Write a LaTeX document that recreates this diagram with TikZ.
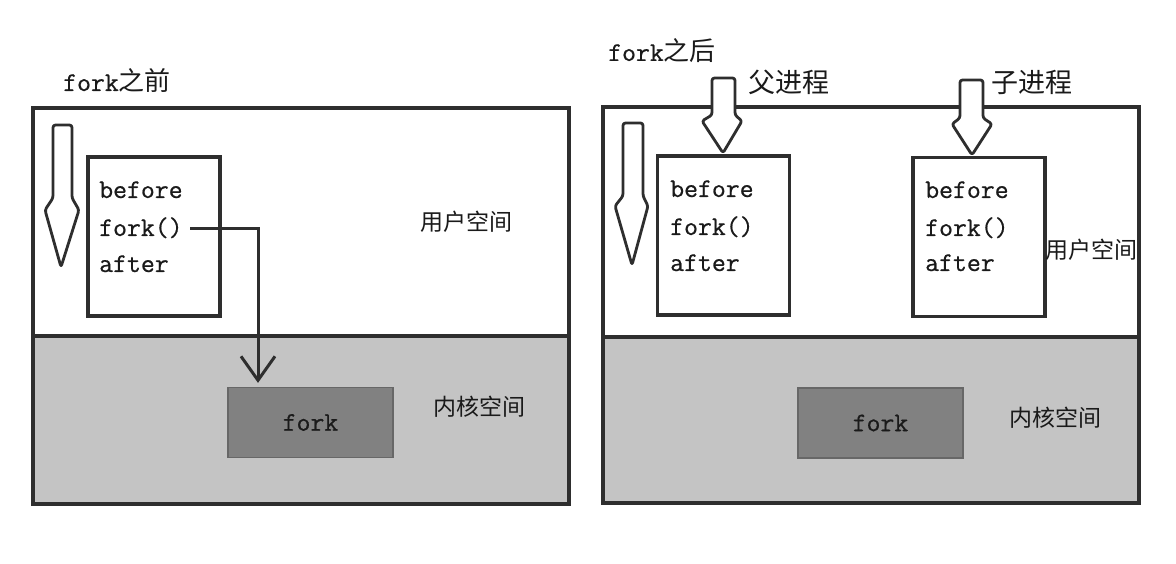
\documentclass[tikz,border=0pt]{standalone}
\usepackage{fontspec}
\newfontfamily\cjk{Noto Sans CJK SC}
\newfontfamily\monof{Latin Modern Mono}[FakeBold=0.6]
\usetikzlibrary{arrows.meta}
\definecolor{kgray}{HTML}{C4C4C4}
\definecolor{boxgray}{HTML}{818181}
\definecolor{ink}{HTML}{2E2E2E}
\definecolor{txt}{HTML}{1A1A1A}
\newcommand{\codefont}{\monof\fontsize{27}{30}\selectfont}
\tikzset{
  panel/.style={draw=ink, line width=3.2pt},
  codebox/.style={draw=ink, line width=3.2pt, fill=white, rectangle, minimum width=132pt, minimum height=159pt, inner sep=0pt},
  codeline/.style={anchor=base west, inner sep=0pt, text=txt, font=\codefont},
  kbox/.style={rectangle, fill=boxgray, draw=boxgray!80!black, line width=1.2pt, minimum width=165pt, minimum height=70pt, inner sep=0pt, text=txt, font=\codefont},
  zhlabel/.style={inner sep=0pt, text=txt, font=\cjk\fontsize{23}{26}\selectfont},
  zhbig/.style={inner sep=0pt, text=txt, font=\cjk\fontsize{27}{30}\selectfont},
  title/.style={anchor=west, inner sep=0pt, text=txt},
  fatarrow/.style={draw=ink, line width=2.8pt, fill=white, line join=round, rounded corners=2.5pt},
  callarrow/.style={draw=ink, line width=3pt, shorten >=4pt, -{Straight Barb[length=24pt, width=34pt, line width=3pt]}}
}
\begin{document}
\begin{tikzpicture}[x=1pt, y=-1pt]
\useasboundingbox[fill=white] (0,0) rectangle (1176,564);

% ---------------- left panel ----------------
\fill[kgray] (33,336) rectangle (569,504);
\draw[panel] (33,108) rectangle (569,504);
\draw[panel] (33,336) -- (569,336);

\node[title] (tL) at (63,81) {{\codefont fork}{\cjk\fontsize{26}{28}\selectfont 之前}};

\node[codebox] (cbL) at (154,236.5) {};
\node[codeline] (bL) at (99,198) {before};
\node[codeline] (fL) at (99,236) {fork()};
\node[codeline] (aL) at (99,272) {after};

\draw[fatarrow] (53,125) -- (72,125) -- (72,198) -- (79,210) -- (61,267) -- (45,210) -- (53,198) -- cycle;

\node[zhlabel] (uL) at (466,222) {用户空间};
\node[zhlabel] (kL) at (479,407) {内核空间};

\node[kbox] (kfL) at (310.5,422.5) {fork};

\coordinate (startL) at (190,229);
\coordinate (turnL) at (258,229);
\draw[callarrow] (startL) -- (turnL) -- (turnL |- kfL.north);

% ---------------- right panel ----------------
\fill[kgray] (603,337) rectangle (1139,503);
\draw[panel] (603,107) rectangle (1139,503);
\draw[panel] (603,337) -- (1139,337);

\node[title] (tR) at (608,51) {{\codefont fork}{\cjk\fontsize{26}{28}\selectfont 之后}};

\node[codebox] (cbP) at (723.5,235.5) {};
\node[codeline] (bP) at (670,197) {before};
\node[codeline] (fP) at (670,235) {fork()};
\node[codeline] (aP) at (670,271) {after};

\node[codebox] (cbC) at (979,237) {};
\node[codeline] (bC) at (925,198) {before};
\node[codeline] (fC) at (925,236) {fork()};
\node[codeline] (aC) at (925,271) {after};

\draw[fatarrow] (623,123) -- (643,123) -- (643,196) -- (648,206) -- (632,265) -- (615,206) -- (623,196) -- cycle;
\draw[fatarrow] (712,78) -- (735,78) -- (735,115) -- (742,121) -- (723,153) -- (702,121) -- (712,115) -- cycle;
\draw[fatarrow] (960,80) -- (983,80) -- (983,118) -- (992,124) -- (972,155) -- (952,124) -- (960,118) -- cycle;

\node[zhbig] (pL) at (789,82) {父进程};
\node[zhbig] (cL) at (1032,82) {子进程};

\node[zhlabel] (uR) at (1091,250) {用户空间};
\node[zhlabel] (kR) at (1055,418) {内核空间};

\node[kbox] (kfR) at (880.5,423) {fork};
\end{tikzpicture}
\end{document}
